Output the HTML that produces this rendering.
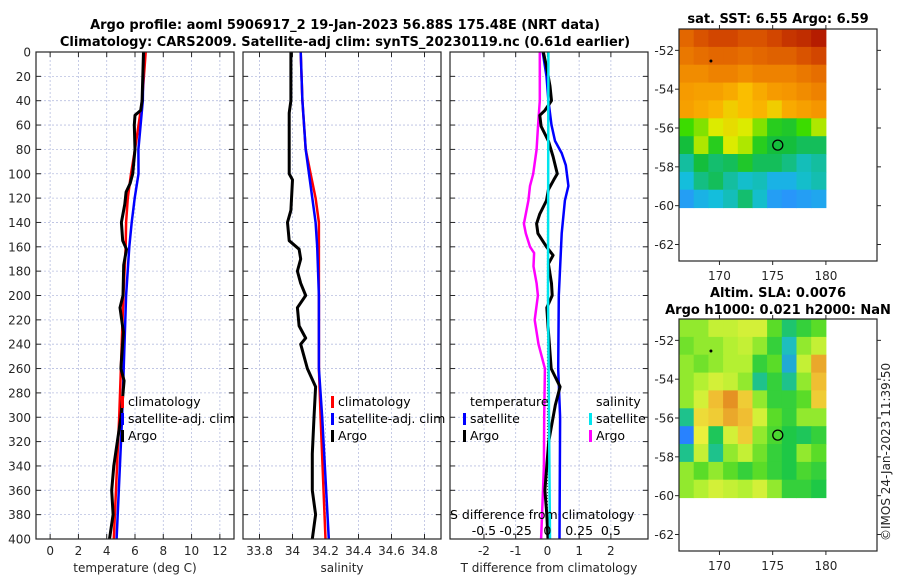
<!DOCTYPE html>
<html><head><meta charset="utf-8">
<style>
html,body{margin:0;padding:0;background:#fff;}
svg{display:block;font-family:"DejaVu Sans","Liberation Sans",sans-serif;}
.tk{font-size:12px;fill:#262626;}
.ttl{font-size:13px;font-weight:bold;fill:#000;}
.lg{font-size:12.5px;fill:#000;}
</style></head>
<body>
<svg id="fig" width="900" height="580" viewBox="0 0 900 580" xmlns="http://www.w3.org/2000/svg">
<text class="ttl" x="345" y="29" text-anchor="middle">Argo profile: aoml 5906917_2 19-Jan-2023 56.88S 175.48E (NRT data)</text>
<text class="ttl" x="345" y="46" text-anchor="middle">Climatology: CARS2009. Satellite-adj clim: synTS_20230119.nc (0.61d earlier)</text>
<text class="ttl" x="778" y="23" text-anchor="middle">sat. SST: 6.55 Argo: 6.59</text>
<text class="ttl" x="778" y="297" text-anchor="middle">Altim. SLA: 0.0076</text>
<text class="ttl" x="778" y="314" text-anchor="middle">Argo h1000: 0.021 h2000: NaN</text>
<text class="tk" transform="translate(890,541) rotate(-90)">©IMOS 24-Jan-2023 11:39:50</text>
</svg>
<script>
// ---------- data ----------
const depthTicks=[0,20,40,60,80,100,120,140,160,180,200,220,240,260,280,300,320,340,360,380,400];
const tempTicks=[0,2,4,6,8,10,12];
const salTicks=[33.8,34,34.2,34.4,34.6,34.8];
const tdiffTicks=[-2,-1,0,1,2];
const sdiffTicks=[-0.5,-0.25,0,0.25,0.5];
const latTicks=[-52,-54,-56,-58,-60,-62];
const lonTicks=[170,175,180];

const climTDepth=[0,40,80,100,120,140,160,200,300,400];
const climTemp=[6.76,6.5,6.0,5.72,5.49,5.37,5.34,5.18,4.88,4.5];
const satTDepth=[0,40,80,100,120,140,160,200,300,400];
const satTemp=[6.6,6.55,6.24,6.25,5.98,5.77,5.6,5.37,5.09,4.7];
const argoTDepth=[0,40,48,52,60,80,100,108,115,125,140,155,162,175,200,210,230,260,270,300,340,360,380,400];
const argoTemp=[6.6,6.5,6.4,6.0,5.95,6.0,5.84,5.65,5.37,5.28,5.04,5.13,5.4,5.2,5.15,4.94,5.18,5.0,5.23,5.0,4.5,4.35,4.45,4.2];

const climSDepth=[0,40,80,100,120,140,160,260,300,400];
const climSal=[34.05,34.06,34.08,34.11,34.14,34.16,34.16,34.16,34.17,34.2];
const satSDepth=[0,40,80,100,120,140,160,200,260,300,400];
const satSal=[34.05,34.06,34.08,34.1,34.12,34.14,34.15,34.16,34.16,34.18,34.22];
const argoSDepth=[0,40,50,100,105,130,140,155,162,170,180,190,200,210,225,235,240,260,275,300,330,360,380,400];
const argoSal=[33.99,33.99,33.98,33.98,34.0,33.99,33.97,33.98,34.04,34.05,34.03,34.05,34.08,34.03,34.04,34.08,34.05,34.09,34.14,34.13,34.12,34.12,34.14,34.12];

const dT_satDepth=[0,20,40,60,73,83,93,110,122,149,200,260,300,400];
const dT_sat=[-0.15,-0.03,0.03,0.13,0.24,0.45,0.58,0.66,0.55,0.45,0.36,0.34,0.4,0.38];
const dT_argoDepth=[0,12,28,40,48,52,61,73,86,100,105,113,122,133,141,149,160,167,174,190,200,210,225,260,275,290,320,340,360,380,400];
const dT_argo=[-0.13,-0.03,0.08,0.13,-0.08,-0.24,-0.2,0.03,0.18,0.31,0.2,0.03,-0.03,-0.24,-0.34,-0.3,-0.03,0.18,0.03,0.13,0.15,-0.02,0.02,0.12,0.4,0.25,0.04,-0.02,-0.08,-0.02,0.02];
const dS_satDepth=[0,200,400];
const dS_sat=[0.008,0.005,0.02];
const dS_argoDepth=[0,40,61,80,100,110,122,141,149,160,165,176,190,200,220,240,260,300,340,360,400];
const dS_argo=[-0.06,-0.06,-0.074,-0.085,-0.112,-0.137,-0.15,-0.185,-0.17,-0.137,-0.105,-0.11,-0.085,-0.075,-0.1,-0.07,-0.02,-0.025,-0.028,-0.035,-0.05];

const sstGrid=[
[0.85,0.88,0.9,0.9,0.88,0.88,0.9,0.92,0.93,0.95],
[0.82,0.84,0.85,0.85,0.84,0.85,0.86,0.86,0.88,0.9],
[0.78,0.78,0.8,0.8,0.78,0.8,0.8,0.8,0.82,0.84],
[0.75,0.74,0.74,0.72,0.68,0.72,0.75,0.76,0.78,0.8],
[0.74,0.72,0.7,0.66,0.68,0.7,0.66,0.72,0.74,0.76],
[0.55,0.58,0.62,0.64,0.62,0.58,0.5,0.48,0.55,0.6],
[0.45,0.6,0.5,0.62,0.6,0.5,0.45,0.45,0.42,0.42],
[0.35,0.45,0.4,0.42,0.48,0.42,0.42,0.38,0.32,0.35],
[0.28,0.38,0.42,0.35,0.3,0.32,0.25,0.25,0.3,0.33],
[0.2,0.25,0.28,0.32,0.4,0.3,0.2,0.18,0.2,0.22]];
const slaGrid=[
[0.55,0.55,0.6,0.6,0.62,0.62,0.5,0.38,0.45,0.5],
[0.52,0.55,0.55,0.58,0.6,0.55,0.45,0.3,0.55,0.6],
[0.55,0.52,0.55,0.58,0.58,0.45,0.5,0.25,0.6,0.75],
[0.55,0.58,0.62,0.6,0.55,0.35,0.45,0.35,0.55,0.72],
[0.55,0.62,0.72,0.78,0.7,0.55,0.45,0.45,0.5,0.7],
[0.35,0.68,0.7,0.75,0.72,0.62,0.5,0.45,0.55,0.55],
[0.15,0.65,0.4,0.62,0.7,0.55,0.48,0.42,0.4,0.45],
[0.35,0.6,0.35,0.55,0.6,0.52,0.45,0.42,0.55,0.5],
[0.55,0.5,0.55,0.5,0.45,0.5,0.45,0.42,0.48,0.45],
[0.55,0.58,0.62,0.6,0.58,0.62,0.55,0.45,0.45,0.42]];
const argoLon=175.48, argoLat=-56.88;
const dotLon=169.2, dotLat=-52.55;

// ---------- helpers ----------
const NS='http://www.w3.org/2000/svg';
const svg=document.getElementById('fig');
function mk(tag,attrs,parent){const e=document.createElementNS(NS,tag);for(const k in attrs)e.setAttribute(k,attrs[k]);(parent||svg).appendChild(e);return e;}
const yTop=52,yBot=539;
const yD=d=>yTop+(d/400)*(yBot-yTop);
function lin(d0,d1,r0,r1){return v=>r0+(v-d0)/(d1-d0)*(r1-r0);}

function panel(name,x0,x1,xs,ticks,labelFn,xlabel,showY){
  const g=mk('g',{});
  
  
  depthTicks.forEach(d=>{const l=mk('line',{x1:x0,x2:x1,y1:yD(d),y2:yD(d),stroke:'#b8bfe0','stroke-width':0.8,'stroke-dasharray':'2,2'},g);
    });
  ticks.forEach(t=>{const x=xs(t);const l=mk('line',{x1:x,x2:x,y1:yTop,y2:yBot,stroke:'#b8bfe0','stroke-width':0.8,'stroke-dasharray':'2,2'},g);
    
    mk('line',{x1:x,x2:x,y1:yBot,y2:yBot-5,stroke:'#262626'},g);mk('line',{x1:x,x2:x,y1:yTop,y2:yTop+5,stroke:'#262626'},g);
    const tx=mk('text',{x:x,y:555,'text-anchor':'middle',class:'tk'},g);tx.textContent=labelFn(t);
    });
  depthTicks.forEach(d=>{mk('line',{x1:x0,x2:x0+5,y1:yD(d),y2:yD(d),stroke:'#262626'},g);mk('line',{x1:x1,x2:x1-5,y1:yD(d),y2:yD(d),stroke:'#262626'},g);
    if(showY){const tx=mk('text',{x:31,y:yD(d)+4.5,'text-anchor':'end',class:'tk'},g);tx.textContent=d;
    }});
  const xl=mk('text',{x:(x0+x1)/2,y:572,'text-anchor':'middle',class:'tk'},g);xl.textContent=xlabel;
  
  return g;
}
function frame(g,x0,x1){const r=mk('rect',{x:x0,y:yTop,width:x1-x0,height:yBot-yTop,fill:'none',stroke:'#262626','stroke-width':1.2},g);
  }
function line(g,xs,vals,depths,color,w,name){
  const pts=vals.map((v,i)=>xs(v).toFixed(1)+','+yD(depths[i]).toFixed(1)).join(' ');
  const p=mk('polyline',{points:pts,fill:'none',stroke:color,'stroke-width':w,'stroke-linejoin':'round'},g);
  
}
function legendItem(g,x,y,color,label,name){
  const r=mk('rect',{x:x,y:y-10,width:3,height:12,fill:color},g);
  
  const t=mk('text',{x:x+7,y:y,class:'lg'},g);t.textContent=label;
  
}

// ---------- temperature panel ----------
const xT=lin(-1,13,36,234);
const gT=panel('temperature-panel',36,234,xT,tempTicks,t=>t,'temperature (deg C)',true);
line(gT,xT,climTemp,climTDepth,'#ff0000',2.5,'temp-climatology-line');
line(gT,xT,satTemp,satTDepth,'#0000ff',2.5,'temp-satellite-line');
line(gT,xT,argoTemp,argoTDepth,'#000000',3,'temp-argo-line');
frame(gT,36,234);
legendItem(gT,121,406,'#ff0000','climatology','legend-entry-climatology');
legendItem(gT,121,423,'#0000ff','satellite-adj. clim','legend-entry-satellite');
legendItem(gT,121,440,'#000000','Argo','legend-entry-argo');

// ---------- salinity panel ----------
const xS=lin(33.7,34.9,243,441);
const gS=panel('salinity-panel',243,441,xS,salTicks,t=>t,'salinity',false);
line(gS,xS,climSal,climSDepth,'#ff0000',2.5,'sal-climatology-line');
line(gS,xS,satSal,satSDepth,'#0000ff',2.5,'sal-satellite-line');
line(gS,xS,argoSal,argoSDepth,'#000000',3,'sal-argo-line');
frame(gS,243,441);
legendItem(gS,331,406,'#ff0000','climatology','legend-entry-climatology');
legendItem(gS,331,423,'#0000ff','satellite-adj. clim','legend-entry-satellite');
legendItem(gS,331,440,'#000000','Argo','legend-entry-argo');

// ---------- difference panel ----------
const xD=lin(-3.07,3.17,450,648);
const xSD=v=>xD(v*4);
const gD=panel('difference-panel',450,648,xD,tdiffTicks,t=>t,'T difference from climatology',false);
const zl=mk('line',{x1:xD(0),x2:xD(0),y1:yD(115),y2:yBot,stroke:'#444','stroke-width':1,'stroke-dasharray':'1,2'},gD);

line(gD,xD,dT_sat,dT_satDepth,'#0000ff',2.5,'tdiff-satellite-line');
line(gD,xSD,dS_argo,dS_argoDepth,'#ff00ff',2.5,'sdiff-argo-line');
line(gD,xD,dT_argo,dT_argoDepth,'#000000',3,'tdiff-argo-line');
line(gD,xSD,dS_sat,dS_satDepth,'#00e5ee',2.5,'sdiff-satellite-line');
frame(gD,450,648);
{const t=mk('text',{x:470,y:406,class:'lg'},gD);t.textContent='temperature';
 const s=mk('text',{x:596,y:406,class:'lg'},gD);s.textContent='salinity';}
legendItem(gD,463,423,'#0000ff','satellite','legend-entry-t-satellite');
legendItem(gD,463,440,'#000000','Argo','legend-entry-t-argo');
legendItem(gD,589,423,'#00e5ee','satellite','legend-entry-s-satellite');
legendItem(gD,589,440,'#ff00ff','Argo','legend-entry-s-argo');
{const t=mk('text',{x:450,y:519,class:'lg'},gD);t.textContent='S difference from climatology';
 sdiffTicks.forEach(v=>{const tx=mk('text',{x:xSD(v),y:535,'text-anchor':'middle',class:'lg'},gD);tx.textContent=v;
 });}

// ---------- maps ----------
function ramp(stops){return v=>{
  if(v<=stops[0][0])return stops[0][1];
  for(let i=1;i<stops.length;i++){if(v<=stops[i][0]){const a=stops[i-1],b=stops[i],t=(v-a[0])/(b[0]-a[0]);
    const c=a[1].map((x,k)=>Math.round(x+(b[1][k]-x)*t));return 'rgb('+c.join(',')+')';}}
  const l=stops[stops.length-1][1];return 'rgb('+l.join(',')+')';};}
function rgbArr(c){return typeof c==='string'?c:'rgb('+c.join(',')+')';}
const sstCmap=(()=>{const f=ramp([[0.18,[40,150,250]],[0.28,[20,190,220]],[0.36,[20,190,150]],[0.45,[20,190,60]],[0.55,[60,220,0]],[0.62,[220,235,0]],[0.68,[250,190,0]],[0.76,[245,150,0]],[0.84,[230,110,0]],[0.9,[210,70,0]],[0.96,[175,20,0]]]);return v=>rgbArr(f(v));})();
const slaCmap=(()=>{const f=ramp([[0.15,[40,130,255]],[0.3,[30,190,190]],[0.42,[30,200,70]],[0.5,[90,220,40]],[0.58,[180,240,50]],[0.65,[235,240,60]],[0.72,[240,190,50]],[0.8,[225,130,30]]]);return v=>rgbArr(f(v));})();
function map(name,top,grid,cmap){
  const g=mk('g',{});
  
  
  const x0=679,x1=877,y0=top,y1=top+232;
  const xL=lin(166.2,184.8,x0,x1), yL=lin(-50.9,-62.85,y0,y1);
  const lonA=166.2,lonB=180,latA=-50.9,latB=-60.1;
  const nr=grid.length,nc=grid[0].length;
  grid.forEach((row,i)=>row.forEach((v,j)=>{
    const lx=lonA+(lonB-lonA)*j/nc, ly=latA+(latB-latA)*i/nr;
    const cx=xL(lx),cy=yL(ly),w=xL(lonA+(lonB-lonA)*(j+1)/nc)-cx+0.5,h=yL(latA+(latB-latA)*(i+1)/nr)-cy+0.5;
    const r=mk('rect',{x:cx.toFixed(1),y:cy.toFixed(1),width:w.toFixed(1),height:h.toFixed(1),fill:cmap(v)},g);
    
  }));
  const fr=mk('rect',{x:x0,y:y0,width:x1-x0,height:y1-y0,fill:'none',stroke:'#262626','stroke-width':1.2},g);
  
  latTicks.forEach(l=>{const y=yL(l);mk('line',{x1:x0-4,x2:x0,y1:y,y2:y,stroke:'#262626'},g);mk('line',{x1:x1,x2:x1+4,y1:y,y2:y,stroke:'#262626'},g);
    const t=mk('text',{x:674,y:y+4.5,'text-anchor':'end',class:'tk'},g);t.textContent=l;
    });
  lonTicks.forEach(l=>{const x=xL(l);mk('line',{x1:x,x2:x,y1:y1,y2:y1+4,stroke:'#262626'},g);mk('line',{x1:x,x2:x,y1:y0-4,y2:y0,stroke:'#262626'},g);
    const t=mk('text',{x:x,y:y1+19,'text-anchor':'middle',class:'tk'},g);t.textContent=l;
    });
  const c=mk('circle',{cx:xL(argoLon),cy:yL(argoLat),r:5,fill:'none',stroke:'#000','stroke-width':1.3},g);
  
  const d=mk('circle',{cx:xL(dotLon),cy:yL(dotLat),r:1.5,fill:'#000'},g);
  
}
map('sst-map',29,sstGrid,sstCmap);
map('sla-map',319,slaGrid,slaCmap);
</script>
</body></html>
